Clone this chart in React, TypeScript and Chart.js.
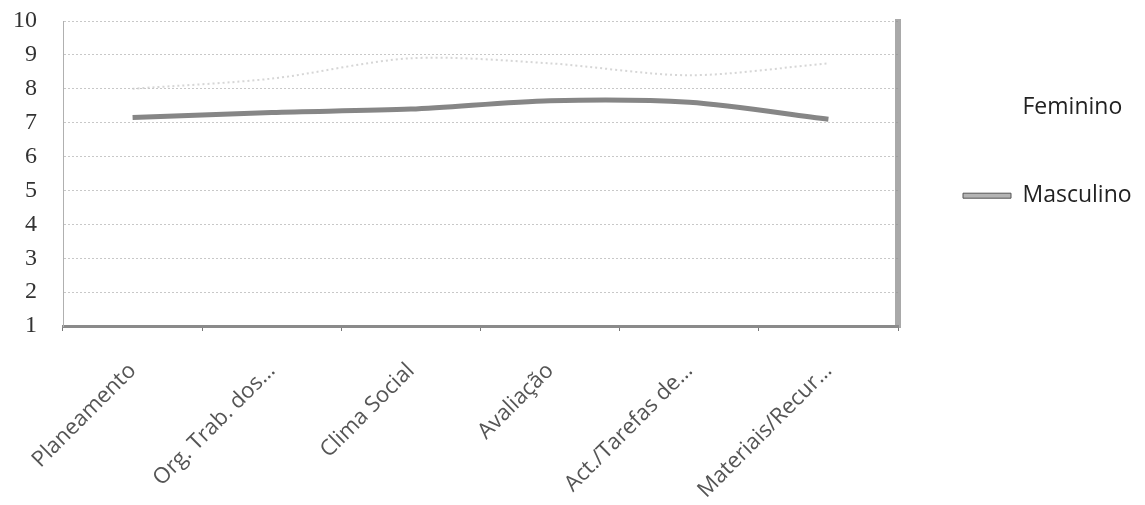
import React, { useEffect, useRef } from "react";
import { Chart, registerables } from "chart.js";

Chart.register(...registerables);

// Dimension labels (x axis)
const categories = [
  "Planeamento",
  "Org. Trab. dos…",
  "Clima Social",
  "Avaliação",
  "Act./Tarefas de…",
  "Materiais/Recur…",
];

// Mean scores per dimension
const feminino = [8.0, 8.3, 8.9, 8.75, 8.4, 8.75];
const masculino = [7.15, 7.3, 7.4, 7.65, 7.6, 7.1];

const seriesNames = ["Feminino", "Masculino"];

// Value scale
const yMin = 1;
const yMax = 10;
const yStep = 1;

// Grey band along the right edge of the plot area
const plotEdge = {
  id: "plotEdge",
  afterDatasetsDraw(chart: any) {
    const { ctx, chartArea } = chart;
    ctx.save();
    ctx.fillStyle = "rgba(140,140,140,0.75)";
    ctx.fillRect(chartArea.right - 3, chartArea.top - 2, 6, chartArea.bottom - chartArea.top + 4);
    ctx.restore();
  },
};

export default function App() {
  const canvasRef = useRef<HTMLCanvasElement | null>(null);

  useEffect(() => {
    if (!canvasRef.current) return;
    const chart = new Chart(canvasRef.current, {
      type: "line",
      data: {
        labels: categories,
        datasets: [
          {
            label: seriesNames[0],
            data: feminino,
            borderColor: "rgba(200,200,200,0.75)",
            backgroundColor: "rgba(0,0,0,0)",
            borderWidth: 2,
            borderDash: [2, 3],
            pointRadius: 0,
            tension: 0.3,
          },
          {
            label: seriesNames[1],
            data: masculino,
            borderColor: "#868686",
            backgroundColor: "#b4b4b4",
            borderWidth: 5,
            pointRadius: 0,
            tension: 0.3,
          },
        ],
      },
      options: {
        animation: false,
        responsive: true,
        maintainAspectRatio: false,
        plugins: {
          tooltip: { enabled: false },
          legend: {
            position: "right",
            align: "start",
            maxWidth: 239,
            title: {
              display: true,
              text: "",
              font: { size: 1 },
              padding: { top: 22, bottom: 0 },
            },
            labels: {
              color: "#222",
              font: { family: "'Open Sans', sans-serif", size: 23 },
              boxWidth: 48,
              boxHeight: 5,
              padding: 65,
              generateLabels(chart: any) {
                const items = Chart.defaults.plugins.legend.labels.generateLabels(chart);
                return items.map((it: any, i: number) => ({
                  ...it,
                  lineWidth: 1,
                  lineDash: [],
                  fillStyle: i === 0 ? "rgba(0,0,0,0)" : "#b4b4b4",
                  strokeStyle: i === 0 ? "rgba(0,0,0,0)" : "#555",
                }));
              },
            },
          },
        },
        scales: {
          x: {
            type: "category",
            offset: true,
            grid: {
              display: true,
              offset: true,
              drawOnChartArea: false,
              drawTicks: true,
              tickLength: 5,
              color: "#777",
            },
            border: { display: true, color: "#8a8a8a", width: 3 },
            ticks: {
              color: "#555",
              font: { family: "'Open Sans', sans-serif", size: 22 },
              minRotation: 45,
              maxRotation: 45,
              padding: 27,
              autoSkip: false,
            },
            afterFit(scale: any) {
              scale.height = 171;
              scale.paddingLeft = 0;
              scale.paddingRight = 0;
            },
          },
          y: {
            min: yMin,
            max: yMax,
            grid: {
              color: "#c8c8c8",
              drawTicks: false,
            },
            border: { display: true, color: "#b0b0b0", width: 1, dash: [2, 2] },
            ticks: {
              stepSize: yStep,
              autoSkip: false,
              color: "#333",
              font: { family: "'Liberation Serif', serif", size: 24, lineHeight: 1 },
              padding: 26,
            },
            afterFit(scale: any) {
              scale.width = 55;
              scale.paddingTop = 13;
              scale.paddingBottom = 0;
            },
          },
        },
      },
      plugins: [plotEdge],
    });
    return () => chart.destroy();
  }, []);

  return (
    <div style={{ position: "relative", width: "1129px", height: "489px" }}>
      <canvas ref={canvasRef} />
    </div>
  );
}
